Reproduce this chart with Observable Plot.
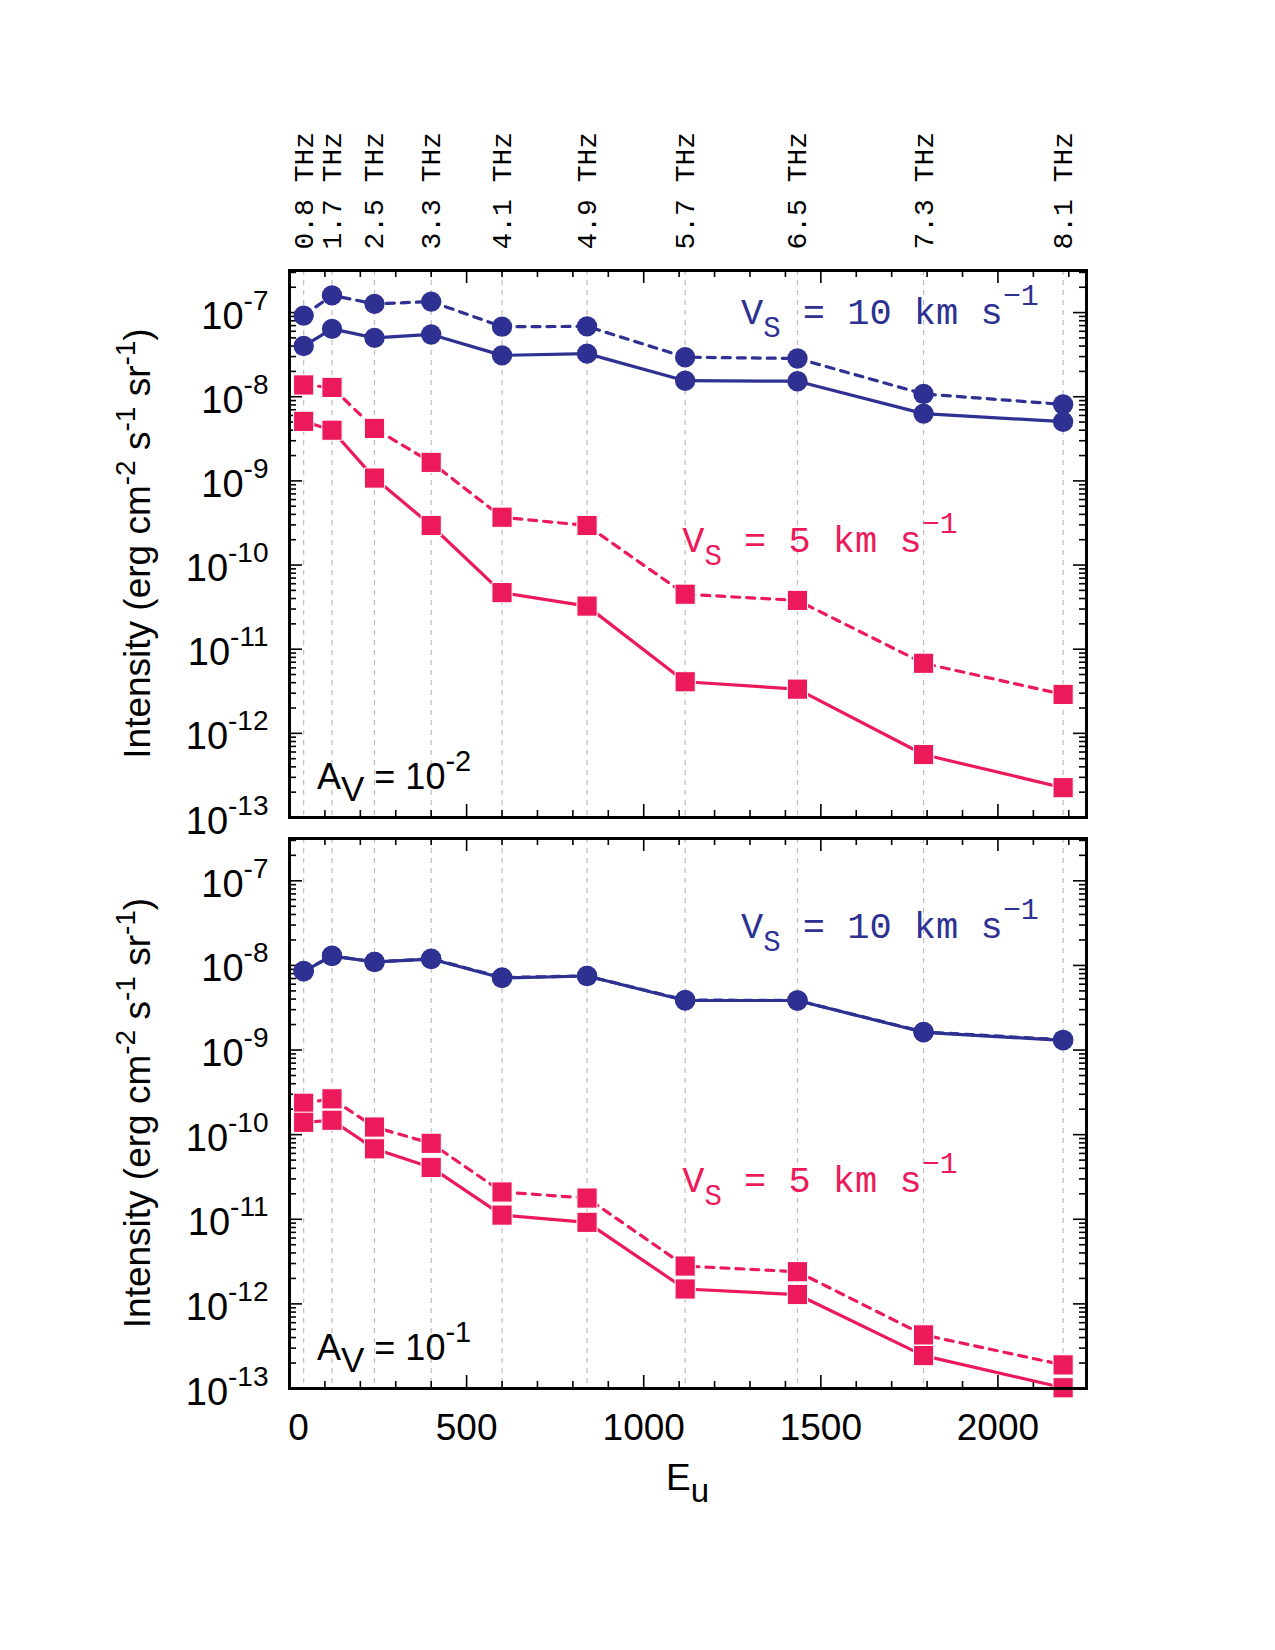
<!DOCTYPE html>
<html>
<head>
<meta charset="utf-8">
<script src="https://cdn.jsdelivr.net/npm/d3@7"></script>
<script src="https://cdn.jsdelivr.net/npm/@observablehq/plot@0.6"></script>
<style>
  body { margin: 0; background: #fff; }
  #chart { position: relative; width: 1275px; height: 1650px; background: #fff; }
  #chart svg { position: absolute; left: 0; }
</style>
</head>
<body>
<div id="chart"></div>
<script>
// CH+ rotational ladder: upper-level energies (K) and line frequencies
const energies = [40, 120, 240, 400, 600, 840, 1117, 1434, 1790, 2184];
const freqLabels = ["0.8 THz", "1.7 THz", "2.5 THz", "3.3 THz", "4.1 THz",
                    "4.9 THz", "5.7 THz", "6.5 THz", "7.3 THz", "8.1 THz"];
const xTickValues = [0, 500, 1000, 1500, 2000];

// Intensities (erg cm-2 s-1 sr-1), A_V = 1e-2
const av2_v10_dashed = [9.2e-8, 1.6e-7, 1.27e-7, 1.35e-7, 6.8e-8, 6.85e-8, 2.95e-8, 2.85e-8, 1.08e-8, 8.1e-9];
const av2_v10_solid  = [4.0e-8, 6.4e-8, 5.0e-8, 5.5e-8, 3.1e-8, 3.25e-8, 1.55e-8, 1.53e-8, 6.3e-9, 5.05e-9];
const av2_v5_dashed  = [1.38e-8, 1.29e-8, 4.2e-9, 1.66e-9, 3.7e-10, 2.95e-10, 4.5e-11, 3.8e-11, 6.8e-12, 2.9e-12];
const av2_v5_solid   = [5.1e-9, 4.0e-9, 1.08e-9, 2.95e-10, 4.7e-11, 3.25e-11, 4.1e-12, 3.35e-12, 5.6e-13, 2.26e-13];

// Intensities (erg cm-2 s-1 sr-1), A_V = 1e-1
const av1_v10_dashed = [8.6e-9, 1.3e-8, 1.1e-8, 1.2e-8, 7.2e-9, 7.5e-9, 3.9e-9, 3.85e-9, 1.64e-9, 1.32e-9];
const av1_v10_solid  = [8.5e-9, 1.29e-8, 1.1e-8, 1.19e-8, 7.1e-9, 7.5e-9, 3.85e-9, 3.85e-9, 1.62e-9, 1.3e-9];
const av1_v5_dashed  = [2.35e-10, 2.65e-10, 1.23e-10, 7.9e-11, 2.1e-11, 1.78e-11, 2.8e-12, 2.4e-12, 4.3e-13, 1.9e-13];
const av1_v5_solid   = [1.4e-10, 1.48e-10, 6.8e-11, 4.1e-11, 1.12e-11, 9.2e-12, 1.5e-12, 1.29e-12, 2.45e-13, 1.02e-13];

// ---------------------------------------------------------------------------
const W = 1275, ML = 289, MR = 1275 - 1086;
const xDomain = [0, 2250];
const yDomain = [1e-13, Math.pow(10, -6.5)];
const BLUE = "#2e3192", PINK = "#ec1a5b";
const SANS = "'Liberation Sans', Arial, Helvetica, sans-serif";
const MONO = "'Liberation Mono', 'Courier New', monospace";
const NS = "http://www.w3.org/2000/svg";

const rowsOf = (values) => values.map((v, i) => ({eu: energies[i], value: v}));

// tick positions taken from the scales themselves
const yAllTicks = d3.scaleLog().domain(yDomain).ticks();
const isDecade = v => Math.abs(Math.log10(v) - Math.round(Math.log10(v))) < 1e-9;
const yMajor = yAllTicks.filter(isDecade);
const yMinor = yAllTicks.filter(v => !isDecade(v));
const xAllTicks = d3.ticks(xDomain[0], xDomain[1], 22);
const xMajor = xAllTicks.filter(v => v % 500 === 0);
const xMinor = xAllTicks.filter(v => v % 500 !== 0);

// write text made of normal / superscript / subscript pieces into a <text>
function richText(el, parts, opt = {}) {
  const {supSize = 27, raise = 18, subSize = 27, drop = 12} = opt;
  el.textContent = "";
  let shift = 0;
  for (const [str, kind] of parts) {
    const t = document.createElementNS(NS, "tspan");
    const target = kind === "sup" ? -raise : kind === "sub" ? drop : 0;
    if (target !== shift) t.setAttribute("dy", target - shift);
    shift = target;
    if (kind === "sup") t.setAttribute("font-size", supSize);
    if (kind === "sub") t.setAttribute("font-size", subSize);
    t.textContent = str;
    el.appendChild(t);
  }
}

function addText(svg, x, y, parts, attrs, opt) {
  const t = document.createElementNS(NS, "text");
  t.setAttribute("x", x);
  t.setAttribute("y", y);
  t.setAttribute("text-anchor", "start");
  for (const [k, v] of Object.entries(attrs)) t.setAttribute(k, v);
  richText(t, parts, opt);
  svg.appendChild(t);
  return t;
}

function panel(cfg) {
  const innerH = cfg.innerH;
  const innerW = W - ML - MR;
  const height = cfg.marginTop + innerH + cfg.marginBottom;
  const major = 13, minor = 7;

  const lineSeries = [
    {rows: rowsOf(cfg.v10Dashed), color: BLUE, dash: "8,7", symbol: "circle"},
    {rows: rowsOf(cfg.v10Solid),  color: BLUE, dash: null,  symbol: "circle"},
    {rows: rowsOf(cfg.v5Dashed),  color: PINK, dash: "8,7", symbol: "square"},
    {rows: rowsOf(cfg.v5Solid),   color: PINK, dash: null,  symbol: "square"}
  ];

  const marks = [
    // dashed guides at every transition
    Plot.ruleX(energies, {x: d => d, stroke: "#bdbdbd", strokeWidth: 1.2, strokeDasharray: "5,5"}),
    // inward ticks on all four sides
    Plot.ruleX(xMajor, {x: d => d, insetTop: innerH - major, stroke: "black", strokeWidth: 1.6}),
    Plot.ruleX(xMinor, {x: d => d, insetTop: innerH - minor, stroke: "black", strokeWidth: 1.6}),
    Plot.ruleX(xMajor, {x: d => d, insetBottom: innerH - major, stroke: "black", strokeWidth: 1.6}),
    Plot.ruleX(xMinor, {x: d => d, insetBottom: innerH - minor, stroke: "black", strokeWidth: 1.6}),
    Plot.ruleY(yMajor, {y: d => d, insetRight: innerW - major, stroke: "black", strokeWidth: 1.6}),
    Plot.ruleY(yMinor, {y: d => d, insetRight: innerW - minor, stroke: "black", strokeWidth: 1.6}),
    Plot.ruleY(yMajor, {y: d => d, insetLeft: innerW - major, stroke: "black", strokeWidth: 1.6}),
    Plot.ruleY(yMinor, {y: d => d, insetLeft: innerW - minor, stroke: "black", strokeWidth: 1.6})
  ];
  for (const s of lineSeries) {
    marks.push(Plot.line(s.rows, {x: "eu", y: "value", stroke: s.color, strokeWidth: 3.2,
      strokeDasharray: s.dash, strokeLinejoin: "round"}));
  }
  for (const s of lineSeries) {
    marks.push(s.symbol === "circle"
      ? Plot.dot(s.rows, {x: "eu", y: "value", r: 10.2, fill: s.color, symbol: "circle"})
      : Plot.dot(s.rows, {x: "eu", y: "value", r: 11.4, fill: s.color, symbol: "square",
          stroke: "white", strokeWidth: 1}));
  }
  marks.push(Plot.frame({stroke: "black", strokeWidth: 3}));
  marks.push(Plot.axisY(yMajor, {tickSize: 0, tickPadding: 21, fontSize: 38, label: null,
    tickFormat: v => `10^${Math.round(Math.log10(v))}`}));
  if (cfg.xLabels) {
    marks.push(Plot.axisX(xTickValues, {tickSize: 0, tickPadding: 25, fontSize: 37, label: null,
      tickFormat: d => String(d)}));
  }
  if (cfg.freq) {
    marks.push(Plot.text(energies, {x: d => d, text: (d, i) => freqLabels[i], frameAnchor: "top",
      rotate: -90, textAnchor: "start", lineAnchor: "middle", dy: -21,
      fontFamily: MONO, fontSize: 28, fill: "black"}));
  }

  const svg = Plot.plot({
    width: W,
    height,
    marginLeft: ML,
    marginRight: MR,
    marginTop: cfg.marginTop,
    marginBottom: cfg.marginBottom,
    x: {domain: xDomain, axis: null, label: null},
    y: {type: "log", domain: yDomain, axis: null, label: null},
    style: {fontFamily: SANS, fontSize: "36px", background: "transparent", overflow: "visible", color: "black"},
    marks
  });
  svg.style.top = cfg.pageTop + "px";

  // decade labels with raised exponents
  svg.querySelectorAll('g[aria-label="y-axis tick label"] text').forEach(t => {
    const [base, exp] = t.textContent.split("^");
    t.setAttribute("y", 16);
    t.removeAttribute("dy");
    richText(t, [[base, ""], [exp, "sup"]], {supSize: 28, raise: 19});
  });
  // the origin label sits a little right of its tick
  svg.querySelectorAll('g[aria-label="x-axis tick label"] text').forEach(t => {
    if (t.textContent === "0") t.setAttribute("dx", 9);
  });

  const sx = svg.scale("x"), sy = svg.scale("y");
  const top = cfg.marginTop, centerY = top + innerH / 2;

  // y-axis title
  addText(svg, 0, 0,
    [["Intensity (erg cm", ""], ["-2", "sup"], [" s", ""], ["-1", "sup"], [" sr", ""], ["-1", "sup"], [")", ""]],
    {"text-anchor": "middle", "font-size": 37, "font-family": SANS, fill: "black",
     transform: `translate(150,${centerY}) rotate(-90)`},
    {supSize: 28, raise: 15});

  // shock-velocity annotations
  const mono = {"font-family": MONO, "font-size": 37};
  addText(svg, sx.apply(cfg.blueAt[0]), sy.apply(cfg.blueAt[1]),
    [["V", ""], ["S", "sub"], [" = 10 km s", ""], ["\u22121", "sup"]],
    {...mono, fill: BLUE}, {subSize: 29, drop: 13, supSize: 30, raise: 19});
  addText(svg, sx.apply(cfg.pinkAt[0]), sy.apply(cfg.pinkAt[1]),
    [["V", ""], ["S", "sub"], [" = 5 km s", ""], ["\u22121", "sup"]],
    {...mono, fill: PINK}, {subSize: 29, drop: 13, supSize: 30, raise: 19});

  // extinction label
  addText(svg, sx.apply(cfg.avAt[0]), sy.apply(cfg.avAt[1]),
    [["A", ""], ["V", "sub"], [" = 10", ""], [cfg.avExp, "sup"]],
    {"font-family": SANS, "font-size": 36, fill: "black"},
    {subSize: 35, drop: 12, supSize: 29, raise: 18});

  if (cfg.xLabels) {
    addText(svg, ML + innerW / 2, top + innerH + 102,
      [["E", ""], ["u", "sub"]],
      {"text-anchor": "middle", "font-family": SANS, "font-size": 37, fill: "black"},
      {subSize: 33, drop: 12});
  }
  return svg;
}

const chart = document.getElementById("chart");

chart.appendChild(panel({
  pageTop: 0, marginTop: 270, innerH: 547, marginBottom: 20,
  v10Dashed: av2_v10_dashed, v10Solid: av2_v10_solid,
  v5Dashed: av2_v5_dashed, v5Solid: av2_v5_solid,
  freq: true, xLabels: false, avExp: "-2",
  blueAt: [1276, 7.22e-8], pinkAt: [1110, 1.41e-10], avAt: [79, 2.15e-13]
}));

chart.appendChild(panel({
  pageTop: 818, marginTop: 20, innerH: 550, marginBottom: 130,
  v10Dashed: av1_v10_dashed, v10Solid: av1_v10_solid,
  v5Dashed: av1_v5_dashed, v5Solid: av1_v5_solid,
  freq: false, xLabels: true, avExp: "-1",
  blueAt: [1276, 2.08e-8], pinkAt: [1110, 2.07e-11], avAt: [79, 2.14e-13]
}));
</script>
</body>
</html>
